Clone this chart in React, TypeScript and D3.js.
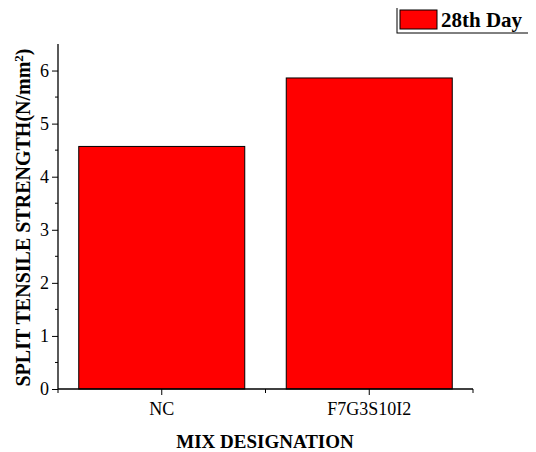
import React, { useEffect, useRef } from 'react';
import * as d3 from 'd3';

const categories = ['NC', 'F7G3S10I2'];
const strength28 = [4.57, 5.86];
const seriesName = '28th Day';
const yTicks = [0, 1, 2, 3, 4, 5, 6];

export default function App() {
  const ref = useRef<SVGSVGElement>(null);

  useEffect(() => {
    const svg = d3.select(ref.current);
    svg.selectAll('*').remove();

    const left = 58, right = 473, top = 44, bottom = 389;
    const font = '"Liberation Serif", "Times New Roman", serif';

    const x = d3.scaleBand().domain(categories).range([left, right]).paddingInner(0.2).paddingOuter(0.1);
    const y = d3.scaleLinear().domain([0, 6.5]).range([bottom, top]);

    // bars
    svg.append('g')
      .selectAll('rect')
      .data(categories)
      .join('rect')
      .attr('x', d => x(d)!)
      .attr('width', x.bandwidth())
      .attr('y', (d, i) => y(strength28[i]))
      .attr('height', (d, i) => bottom - y(strength28[i]))
      .attr('fill', '#ff0000')
      .attr('stroke', '#000')
      .attr('stroke-width', 1);

    // y axis
    const yAxis = svg.append('g').attr('transform', `translate(${left},0)`)
      .call(d3.axisLeft(y).tickValues(yTicks).tickSize(6).tickPadding(3).tickFormat(d3.format('d')));
    yAxis.select('.domain').attr('d', `M0,${top}V${bottom}`).attr('stroke-width', 1.3);
    yAxis.selectAll('text').attr('font-family', font).attr('font-size', 18).attr('fill', '#000');
    svg.append('g')
      .selectAll('line')
      .data(d3.range(0.5, 6.5, 1))
      .join('line')
      .attr('x1', left - 3).attr('x2', left)
      .attr('y1', d => y(d)).attr('y2', d => y(d))
      .attr('stroke', '#000');

    // x axis
    const step = x.step();
    const xAxis = svg.append('g').attr('transform', `translate(0,${bottom})`)
      .call(d3.axisBottom(x).tickSize(6));
    xAxis.select('.domain').attr('d', `M${left},0H${right}`).attr('stroke-width', 1.3);
    xAxis.selectAll('text').attr('font-family', font).attr('font-size', 18).attr('fill', '#000')
      .attr('dy', null).attr('y', 26);
    svg.append('g')
      .selectAll('line')
      .data([left, left + step, right])
      .join('line')
      .attr('x1', d => d).attr('x2', d => d)
      .attr('y1', bottom).attr('y2', bottom + 4)
      .attr('stroke', '#000');

    // axis titles
    svg.append('text')
      .attr('transform', `translate(30,${(top + bottom) / 2 + 1}) rotate(-90)`)
      .attr('text-anchor', 'middle')
      .attr('font-family', font)
      .attr('font-size', 20)
      .attr('font-weight', 'bold')
      .text('SPLIT TENSILE STRENGTH(N/mm')
      .call(t => t.append('tspan').attr('baseline-shift', 'super').attr('font-size', 13).text('2'))
      .call(t => t.append('tspan').text(')'));

    svg.append('text')
      .attr('x', 265)
      .attr('y', 448)
      .attr('text-anchor', 'middle')
      .attr('font-family', font)
      .attr('font-size', 19)
      .attr('font-weight', 'bold')
      .text('MIX DESIGNATION');

    // legend
    const lg = svg.append('g');
    lg.append('rect').attr('x', 397).attr('y', 6).attr('width', 134).attr('height', 27)
      .attr('fill', '#fff').attr('stroke', '#000').attr('stroke-width', 1);
    lg.append('rect').attr('x', 400).attr('y', 10).attr('width', 37).attr('height', 19)
      .attr('fill', '#ff0000').attr('stroke', '#000');
    lg.append('text').attr('x', 441).attr('y', 27)
      .attr('font-family', font).attr('font-size', 21).attr('font-weight', 'bold')
      .text(seriesName);
  }, []);

  return (
    <div style={{ margin: -8 }}>
      <svg ref={ref} width={536} height={452}></svg>
    </div>
  );
}
